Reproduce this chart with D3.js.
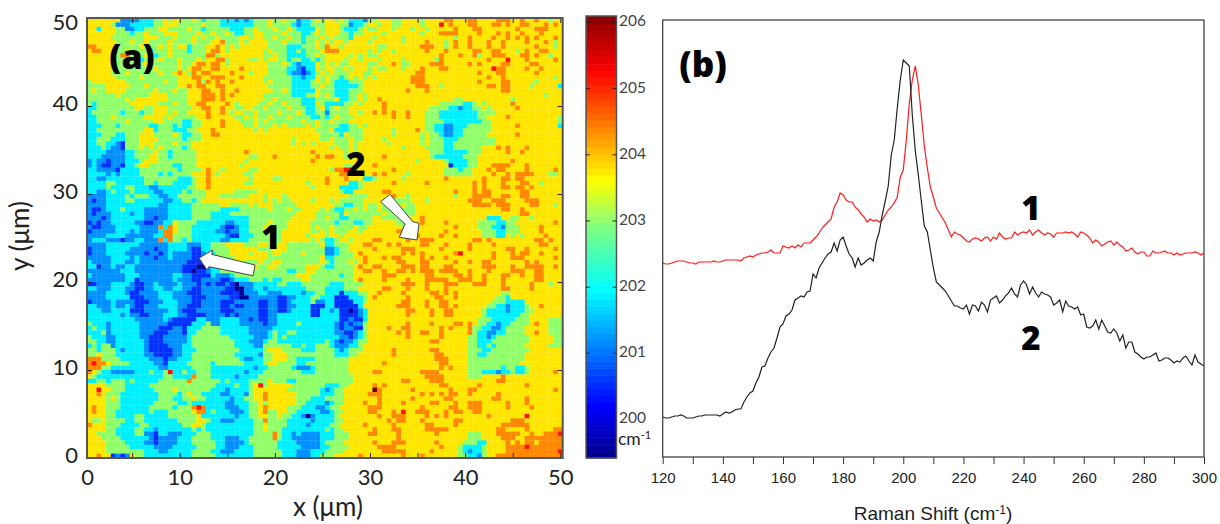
<!DOCTYPE html>
<html>
<head>
<meta charset="utf-8">
<script src="https://cdn.jsdelivr.net/npm/d3@7"></script>
<style>
body { margin:0; background:#fff; }
svg { display:block; }
text { font-family: Lato, "Open Sans", sans-serif; }
</style>
</head>
<body>
<svg width="1220" height="524"></svg>
<script>
// (a) Raman peak position map, one digit per 0.5 um pixel, top row first
// digit is an index in levelValues (spaces only there to keep rows readable)
var levelValues = [199.9, 200.5, 201.1, 201.95, 202.95, 203.72, 204.45, 205.2, 206.0];
var mapRows = [
// row 0
"5555555222 2333445455 4454344433 3232344454 4544233454 5545433324 4555445555 4555566555 6655556665 5655655455",
"5555542223 3333445554 4444544433 3333344454 4443233444 5554423345 5455445555 4555756555 6655566565 5665556565",
"5535554422 3344455444 4544344444 3334454445 4454333354 5554333454 4555455545 5455555655 5665555555 6555666555",
"5555554443 4454445554 4445445445 4334455444 4544433454 5554434455 5545555555 4555666655 5565556565 5655565555",
"5555544444 4455544454 4454544544 4455455445 4454434445 4544435555 4555554555 5555555455 6555565565 6565655565",
"5555554445 4454444544 4454445564 4454555544 4544434454 5455455554 5555554555 5655545655 6555655655 5565556545",
"6655554444 4544454545 5344455654 5455555544 4433344454 6554555555 5445555555 6665545655 6555655655 5555655545",
"5665554454 4443444544 4344456654 5555555454 4433434445 6665555554 5455455555 5655565555 5665566555 4565566555",
"5555544664 4454344544 4444466455 5555555445 4433334454 5555545454 4555555555 5555655565 5645566655 5665655455",
"5555544444 4344454445 4445455664 5555445455 4434433434 5555455455 5455554555 5554655555 5555655575 5565555565",
// row 10
"5555544454 4454444445 4456656654 5555555544 4543233354 5454455554 4555654455 5566655555 6565555665 5556655555",
"5555544444 4444544445 4566556655 5565555544 4433213354 5544545554 5445554555 6555665555 5555576655 5565565555",
"5555544454 4444454456 5465665555 6555455544 4432212345 4544455544 5555555556 6555555555 5565556655 5555655555",
"5555554444 4544444445 5566556665 5565555444 4443323354 5443454545 4555555566 6555555555 5555655655 5555555545",
"4555555544 4444445445 5556465655 6555555454 4443333454 5433344455 5555555566 6555555555 5565555665 5555455555",
"4444555554 4454444445 5656655665 5555555544 4443333445 4433333455 5555555556 6655455555 5555665665 5554555553",
"4544555544 4444544454 4555665565 5655555554 4543333354 4433344455 5555555655 5655555555 5555555665 5555555555",
"4444445444 4445555444 4555666565 6555555444 4443334454 5433344545 5555555555 5555555555 5555555555 5555554555",
"4444444454 5555555444 4555666565 5555555445 4444433344 4453344545 5655555555 5555555445 5555555554 5555555555",
"4344444445 5555544454 4556655556 5455554454 4544433354 3333445455 5565555555 5555444443 3454555556 5555555555",
// row 20
"3344444444 5544555444 4455665565 5445544544 4454443345 3454455555 5565555555 5544443323 3445455555 6555555555",
"3444444344 4344555454 4555565565 4554454444 5444543344 2444455455 6565655655 5444333333 3344445555 5555555555",
"3344454444 4455554544 4445565555 5445454454 4454444334 3454445555 5555655655 5444333333 3344555565 5555555554",
"3344444454 4444554444 3344555565 5544454544 4444454454 4544455555 5555555555 5444433333 3334455555 5555555554",
"3334443444 4443344434 3344555565 5554454445 4544445454 4443344545 5555555555 5443322333 4444455555 6555555553",
"3344444444 4455344433 3445556555 5555545455 5555555544 4533344455 5555455556 5443322334 4444455555 5555555555",
"3334443344 4555444454 3344556655 5555555555 5555555554 4443544455 5555455555 4544322334 4444555555 6555555555",
"3344433344 4555544444 3444555555 5555555555 5554555554 4544454455 5545555555 4544433344 4444445555 5555555555",
"3344332144 4555444454 4455555555 5555555555 5554545455 5544454555 5554555555 4544433444 4444445555 5555555555",
"3334322144 4545454444 3455555555 5555555555 5555555555 5454454555 5555554555 5444433444 4445556565 5565555555",
// row 30
"3333222233 4444544344 4445555555 5556555555 5555555655 5555454555 5555555555 5544433333 4445555565 5655555555",
"3332222233 4445544344 4445555555 5555445556 5555555565 6655445555 5565555555 5543333334 4455555555 5555555555",
"2322122233 3455544444 4445555555 5554555555 5555555655 5555555555 5555555554 5555543333 4455555556 5555555555",
"2321122133 4554444433 4445555555 5545555555 5555555555 5555445555 6555555555 5555551333 4455566665 5565555555",
"3322221333 3444444443 4444565545 5555445555 5555555555 5466774555 5555655555 5555544434 4555656655 5565555565",
"3333232333 3444434344 4455565455 5554455555 5555555555 5556655555 6565555455 5555544444 4555565565 6666555445",
"3322333333 3344444443 3345565555 5555455554 4555555555 6555655533 4555554555 5555565555 5556555665 6655555555",
"3333443333 3344344433 3345565555 5554455555 5555554555 6555533455 5555655555 5655555555 5656555655 5665545555",
"3333433344 3332233333 3445565555 5555555555 5555555455 5553333455 5555555555 5555555555 5656555665 6656555555",
"3322343334 3333223333 4344455555 5444445555 5555555555 5554335555 5566555555 5555555655 5656655555 5665555555",
// row 40
"2222333343 4443322334 4444455544 4444555455 5455555555 5555544445 5555655455 5555555455 5666655665 5665555555",
"2122333344 3333332233 4434555555 5555555454 5445555455 5454444455 5554444455 5455555555 6665566655 5566655555",
"2222333333 3333322333 3344444455 4444545554 4444555555 5544334454 4544445445 5555555555 5666656665 5556655545",
"2112333433 3322222333 3344444433 3344444454 4454455554 5433445454 4544444445 5555555555 5555555665 5655555555",
"2122233332 3322222333 3344443333 4444444444 4444555544 4443544444 4454444445 5555555555 5555555555 5665555555",
"2221233333 3322122333 3344443333 3333444444 4445555544 5443344444 5544444455 6555555555 5555333554 4554555555",
"1212233333 2211223354 4443333332 2333444454 4455555444 4434443344 5555544555 6555565555 5544443344 5555555565",
"2112223333 3222263654 4433333321 1233444544 4455555454 4544445445 5555554555 5555555655 5544433244 4555565555",
"1222223332 3222236654 4433333221 2233444544 4555555445 4544455455 5555566555 5555565555 5554443344 4555565555",
"2222333322 2222336644 4433333332 1133344444 4555554555 4554555555 5555555556 5555655655 5554443354 5455556555",
// row 50
"2333222122 3322263644 3433333322 3333444444 4555555454 3345545555 6655555655 6665555555 5665655555 5555665655",
"2222333333 3222222333 3222334445 5554445544 5544444445 3344455566 5556565555 6655565555 6555565555 5555566555",
"1222333332 2222122333 3211334444 5555554445 5544444444 2234455555 6555556665 5555655555 6555555566 5565555565",
"1222333322 2212212322 2211233444 5555455545 5444454444 2234445655 5555556565 6555555675 5555565556 5665565555",
"2222233332 3222122322 2211233444 4555555544 4444444445 3344445565 5565665555 6565565555 5555565556 6655555565",
"3222233322 3222222222 2111134444 4554445445 5444444445 4344454565 5555566555 6655555655 6556655555 5565655555",
"3312232233 2222222222 1110023344 4444554455 4444445554 3344445655 6655556665 6655566555 5556665556 5566665565",
"2222222333 2222222222 1101123344 4455444444 4433445544 4444445566 5565566565 6665666655 6555655556 6655665555",
"3222222233 3222222233 2211113222 3444444444 4444555444 4443445555 5566655555 5665555665 6556555665 5655665555",
"2222222233 1222222232 2211222211 2333444343 3444455444 4444445655 5565555655 5666665566 6556555655 5555665555",
// row 60
"1122233332 1122322223 2221212112 1022233333 4433344444 4333444455 5555556665 5655566655 5666555655 5556555455",
"3322233322 1122332233 2211222221 1002233233 3333334444 3333444555 5566555655 5655565555 5555555665 5556555555",
"2222333321 1222233322 2111222211 1102223322 2333323344 3331333445 5655556555 5566565655 5555555445 5555555555",
"2222333331 1122233322 2211122222 1100222222 1122333443 3311133345 6555555655 5556655655 5555554435 5555555555",
"1222232222 1112223332 2211222211 1222221122 1123333422 3311113345 5555556655 5655665555 5555544433 3355555555",
"3322232232 1122233332 2111222211 2112221122 1122333111 3311111355 5555566655 5655665655 5555443323 3345565555",
"3332233331 1122222332 1112222211 1222221122 1123333113 3231101235 5555555665 5565566555 5554333323 3344555555",
"3333333232 2112223332 2111122221 2122221122 3333333113 3331111235 5555555655 5565566555 5554333333 3445555555",
"3333333333 2222223211 1113322233 3322121122 3333333333 3331121135 5555555555 5555555555 5544433333 4445555444",
"4333233333 3222222111 1133342233 3322222122 3333433333 3321212245 5555555655 5565555665 6544332334 4445655444",
// row 70
"3433233333 3222211122 1333444433 3333222223 3333333333 3321221145 5556556655 5555656555 6443322344 4455555444",
"3334233333 3222111222 1334444433 3333222234 3344333333 3322112345 5555565655 6655655555 6433223344 4455655444",
"4333223333 3221112222 2344444444 3333322234 3433333333 3332212345 5555555655 5555655555 4433234444 4445555544",
"4433223333 3321112222 2344444444 4333222344 3333333333 4321223445 5555555555 5566555555 4433344444 4445555544",
"3434423333 3321111222 3344444444 4333322444 4443343344 4322233455 5555555555 5555555555 4433434444 4455555444",
"4434443233 3321111122 3334444444 4433333455 5444433344 4432344455 5555655555 5566555555 4443344444 4445555555",
"4454443333 3322111122 3344444444 4333332445 5544444444 4433344555 5555655555 5556655555 4433444444 4455555555",
"6664444333 3332221223 3344444444 4432233445 5544333344 4444455555 5555555555 5556665555 4444444444 4455555555",
"6766544443 3333221333 3444443444 4443333455 4444334444 4444455555 5565555555 5555665555 4444444444 4555555555",
"6664433333 3333322333 3344443333 3333323344 4443222344 4444455555 5555555555 5555656555 4444444344 3345555555",
// row 80
"6543322222 3334334733 4334443333 3332333444 4444433344 4444455555 6655555555 6666555555 4443332334 3345555565",
"5433333333 3333334433 3364443333 3233334444 4444444444 4444445555 5555555555 5666655555 4445555655 5555555555",
"3344344434 3333344444 4644444434 3333444454 4433444444 4444445555 5555556655 5566655555 5555556655 5555555555",
"5555444433 3334444444 4444444333 3433457455 5554444444 3334455555 6565555555 5555665555 5565555555 5565555555",
"5575544433 3333444454 4444443332 3333455555 5544444443 2344555555 8655555565 5555556555 6655555555 5555555565",
"5565444333 3333344443 4544333322 3332455655 5555444443 3344555556 6655555555 6565656655 6555556555 5555555555",
"5555454333 3333344433 4454433333 2334455655 5555444333 4444555555 5655555565 5555566555 5555566555 5565555555",
"5555444333 3333444443 3433333332 2333445455 5555443333 2344555565 5655556555 5566555655 6665555565 5565555555",
"5655444333 3334444434 4467633332 2233445655 5544433322 3445555556 6655555555 6555556655 6665555565 5556555555",
"5655443333 3334333444 4456634333 2223445644 5544333332 2344555556 6555657556 6655565665 5665555555 5555555555",
// row 90
"5555443333 4433333444 4445333333 3233445544 5443320233 3345555555 5655666555 5656565555 5555655555 5575555555",
"5445444433 4433333334 4445543322 2333344644 4433333233 3344555555 5556566555 6555555665 5555555556 6655555555",
"6555444333 3443333333 4455433333 3333344544 4433332333 3445555565 5555655555 5665555655 5555555666 6665555555",
"5555443333 4433233333 3343433333 3333344544 4333333333 4344555555 6555665555 5666665555 5555556655 5565555566",
"5544443333 4422133222 3334443333 3333344446 4332322223 3344455556 6555565555 5556555555 4445556666 6556556667",
"5554444333 3332122223 3344443332 2233444446 4332222223 3344455555 5555565555 5555555555 4445555666 5566666666",
"5555444433 3322122223 3344444332 2223444444 3333222223 4444555555 6555666555 5556555554 4433555565 6566566666",
"5555444443 3333222233 3334444332 2233344444 3333322223 3444455555 5666655555 5555655543 3334555566 6676666666",
"5555444444 4433322333 3344443322 2333344444 4333222333 4444555555 5566666555 5565555543 2334555566 6666666667",
"5565512125 4433333333 3344444333 3333344444 4333222334 4455555655 5555556555 6555555544 3324556666 6666666666"
];
var levelColours = ["#000090", "#0030ff", "#0090ff", "#00f0ff", "#90ff6a", "#ffe600", "#ff8800", "#ff1000", "#700000"];

var xTicksA = [0, 5, 10, 15, 20, 25, 30, 35, 40, 45, 50];
var yTicksA = [0, 10, 20, 30, 40, 50];
var barTicks = [200, 201, 202, 203, 204, 205, 206];

// (b) spectra, one reading per cm-1
var intensity1 = [
194,193,193,194,195,196,196,196,195,194,194,193,195,195,195,195,195,196,195,195,
196,197,197,197,197,197,196,199,200,201,200,202,203,204,204,205,207,204,204,204,
211,210,209,211,209,212,210,214,214,214,217,220,224,229,232,235,238,250,255,264,
262,257,255,255,250,247,243,240,235,238,236,237,235,237,242,247,250,254,260,280,
287,317,353,377,391,372,342,311,289,270,260,249,244,239,234,227,220,225,223,222,
219,216,215,218,219,218,216,219,220,216,220,218,224,220,218,219,219,225,222,224,
225,224,227,222,225,227,224,222,224,223,220,224,224,224,225,224,225,223,220,225,
224,222,219,214,217,215,211,213,215,216,212,215,212,210,206,207,209,205,203,205,
205,201,201,206,204,204,205,206,204,204,202,204,202,203,204,204,204,205,204,202,204];
var intensity2 = [
40,39,39,40,41,41,42,41,39,39,39,40,41,41,42,42,42,42,42,41,
43,45,44,45,47,48,48,55,60,64,66,74,80,90,91,99,105,109,119,130,
133,141,143,147,157,159,161,160,165,166,183,179,189,194,199,203,205,214,206,217,
220,211,203,199,190,199,192,194,197,199,196,215,225,242,256,271,302,317,349,377,
397,394,391,342,306,282,256,231,225,207,189,175,172,169,166,161,156,151,151,149,
148,152,143,152,151,146,155,152,145,157,159,161,154,157,161,164,169,163,160,172,
176,172,163,170,164,160,165,163,162,160,152,154,157,145,156,151,150,148,150,142,
143,130,129,131,137,128,137,131,125,124,128,124,116,122,109,115,115,105,103,100,
98,100,100,102,104,96,97,99,99,97,94,96,95,99,101,96,92,102,95,93,91];
var xTicksB = [120, 130, 140, 150, 160, 170, 180, 190, 200, 210, 220, 230, 240, 250, 260, 270, 280, 290, 300];

var svg = d3.select("svg");
var axisCol = "#555";
var textCol = "#222";

// ---- map
var xA = d3.scaleLinear().domain([0.25, 50.25]).range([87, 562.7]).clamp(true);
var yA = d3.scaleLinear().domain([0, 50]).range([458, 18]);

var cells = [];
mapRows.forEach(function(row, r) {
    row.replace(/ /g, "").split("").forEach(function(ch, c) {
        cells.push({ x: 0.25 + c * 0.5, y: 50 - r * 0.5, level: +ch });
    });
});

svg.append("g").selectAll("rect")
    .data(cells)
    .enter().append("rect")
    .attr("x", function(d) { return xA(d.x); })
    .attr("y", function(d) { return yA(d.y); })
    .attr("width", xA(0.75) - xA(0.25) + 0.3)
    .attr("height", yA(0) - yA(0.5) + 0.3)
    .attr("fill", function(d) { return levelColours[d.level]; });

function styleAxis(g, size) {
    g.selectAll(".domain").remove();
    g.selectAll("line").attr("stroke", "#222");
    g.selectAll("text").attr("fill", textCol).style("font-size", size + "px");
}

svg.append("g")
    .attr("transform", "translate(0,458)")
    .call(d3.axisBottom(xA).tickValues(xTicksA).tickSizeInner(-5).tickPadding(11)
        .tickFormat(function(d) { return d % 10 == 0 ? d : ""; }))
    .call(styleAxis, 22);
svg.append("g")
    .attr("transform", "translate(0,18)")
    .call(d3.axisTop(xA).tickValues(xTicksA).tickSizeInner(-5).tickFormat(""))
    .call(styleAxis, 22);
var yAxisA = svg.append("g")
    .attr("transform", "translate(87,0)")
    .call(d3.axisLeft(yA).tickValues(yTicksA).tickSizeInner(-5).tickPadding(9))
    .call(styleAxis, 22);
// labels sit a little off their ticks in the original
yAxisA.selectAll("text").attr("y", function(d) { return d == 50 ? 4 : -3; });
svg.append("g")
    .attr("transform", "translate(562.7,0)")
    .call(d3.axisRight(yA).tickValues(yTicksA).tickSizeInner(-5).tickFormat(""))
    .call(styleAxis, 22);

svg.append("rect").attr("x", 87).attr("y", 18).attr("width", 475.7).attr("height", 440)
    .attr("fill", "none").attr("stroke", axisCol).attr("stroke-width", 2);

svg.append("text").attr("x", 328).attr("y", 516).attr("text-anchor", "middle")
    .attr("fill", textCol).style("font-size", "26px").text("x (\u03bcm)");
svg.append("text").attr("transform", "translate(29,236) rotate(-90)").attr("text-anchor", "middle")
    .attr("fill", textCol).style("font-size", "26px").text("y (\u03bcm)");

// ---- arrows and labels on the map
var arrowPts = [
    [[199, 258], [212.7, 250], [211.7, 254.3], [255, 265], [253, 275.7], [209, 266.7], [207, 270]],
    [[417, 240], [399.3, 237.3], [405, 224], [380.7, 201.7], [390, 194.3], [412.7, 221.7], [419, 223.3]]
];
svg.selectAll(".arrow").data(arrowPts).enter().append("polygon")
    .attr("class", "arrow")
    .attr("points", function(d) { return d.join(" "); })
    .attr("fill", "#fff").attr("stroke", "#444").attr("stroke-width", 1);

function bigLabel(x, y, txt, size) {
    svg.append("text").attr("x", x).attr("y", y).attr("text-anchor", "middle")
        .attr("fill", "#000").style("font-family", "'Open Sans', sans-serif")
        .style("font-weight", 800).style("font-size", size + "px").text(txt);
}
bigLabel(132, 69, "(a)", 34);
bigLabel(271, 249, "1", 33);
bigLabel(356, 176, "2", 33);
bigLabel(703, 77, "(b)", 35);
bigLabel(1031, 220, "1", 33);
bigLabel(1031, 350, "2", 33);

// ---- colour bar
var yBar = d3.scaleLinear().domain([199.41, 206.09]).range([458, 16]);
var barColour = d3.scaleLinear()
    .domain([199.41, 200.15, 201.9, 202.85, 203.55, 205.2, 206.09])
    .range(["#00008f", "#0000ff", "#00ffff", "#80ff80", "#ffff00", "#ff0000", "#800000"]);
var barSteps = d3.range(64).map(function(i) { return 199.41 + i * (206.09 - 199.41) / 64; });
svg.append("g").selectAll("rect")
    .data(barSteps)
    .enter().append("rect")
    .attr("x", 586).attr("width", 30.5)
    .attr("y", function(d) { return yBar(d + (206.09 - 199.41) / 64); })
    .attr("height", (458 - 16) / 64 + 0.5)
    .attr("fill", function(d) { return barColour(d); });
svg.append("rect").attr("x", 586).attr("y", 16).attr("width", 30.5).attr("height", 442)
    .attr("fill", "none").attr("stroke", "#555").attr("stroke-width", 1.5);
var barAxis = svg.append("g")
    .attr("transform", "translate(616.5,0)")
    .call(d3.axisRight(yBar).tickValues(barTicks).tickSizeInner(-4).tickPadding(6).tickFormat(d3.format("d")))
    .call(styleAxis, 15.5);
barAxis.selectAll("text").attr("x", 2.5).attr("y", -1).attr("fill", "#444");
svg.append("g")
    .attr("transform", "translate(586,0)")
    .call(d3.axisLeft(yBar).tickValues(barTicks).tickSizeInner(-4).tickFormat(""))
    .call(styleAxis, 15.5);
var cmLabel = svg.append("text").attr("x", 618).attr("y", 445).attr("fill", textCol).style("font-size", "17.5px");
cmLabel.append("tspan").text("cm");
cmLabel.append("tspan").attr("dy", -6).style("font-size", "11px").text("-1");

// ---- spectra
var xB = d3.scaleLinear().domain([120, 300]).range([662.7, 1204]);
var yB = d3.scaleLinear().domain([0, 437]).range([457, 20]);
var shifts = d3.range(120, 301);
var lineB = d3.line()
    .x(function(d, i) { return xB(shifts[i]); })
    .y(function(d) { return yB(d); });

svg.append("path").datum(intensity1).attr("d", lineB)
    .attr("fill", "none").attr("stroke", "#ff1a1a").attr("stroke-width", 1.2);
svg.append("path").datum(intensity2).attr("d", lineB)
    .attr("fill", "none").attr("stroke", "#222").attr("stroke-width", 1.2);

svg.append("rect").attr("x", 662.7).attr("y", 20).attr("width", 541.3).attr("height", 437)
    .attr("fill", "none").attr("stroke", "#444").attr("stroke-width", 1.3);

var axB = svg.append("g")
    .attr("transform", "translate(0,457)")
    .call(d3.axisBottom(xB).tickValues(xTicksB).tickSizeOuter(0).tickSizeInner(7).tickPadding(8)
        .tickFormat(function(d) { return d % 20 == 0 ? d : ""; }));
axB.selectAll(".domain").remove();
axB.selectAll("line").attr("stroke", "#333");
axB.selectAll("text").attr("fill", textCol)
    .style("font-family", "'Liberation Sans', sans-serif").style("font-size", "15px");

var titleB = svg.append("text").attr("x", 933).attr("y", 520).attr("text-anchor", "middle")
    .attr("fill", textCol).style("font-family", "'Liberation Sans', sans-serif").style("font-size", "19px");
titleB.append("tspan").text("Raman Shift (cm");
titleB.append("tspan").attr("dy", -6).style("font-size", "12px").text("-1");
titleB.append("tspan").attr("dy", 6).text(")");
</script>
</body>
</html>
